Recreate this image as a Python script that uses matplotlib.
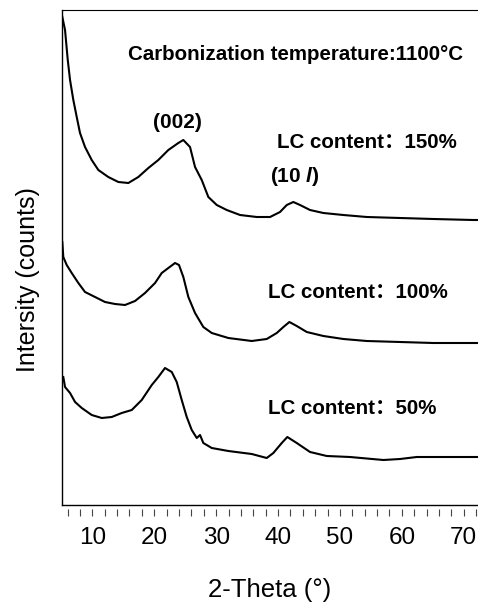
import numpy as np
import matplotlib.pyplot as plt

plt.rcParams['font.family'] = ['Liberation Sans', 'Noto Sans CJK SC', 'DejaVu Sans']
plt.rcParams['mathtext.fontset'] = 'custom'
plt.rcParams['mathtext.it'] = 'Liberation Sans:italic:bold'
plt.rcParams['mathtext.rm'] = 'Liberation Sans'

# XRD patterns (2-theta in degrees, intensity in arbitrary counts, already offset)
theta_150 = [5.15, 5.59, 6.03, 6.40, 6.93, 7.48, 8.01, 8.82, 9.90, 10.97, 12.58, 14.20, 15.82,
             17.43, 19.05, 20.66, 22.28, 23.89, 24.70, 25.78, 26.59, 27.67, 28.74, 30.10, 31.71,
             33.86, 36.56, 38.71, 40.32, 41.41, 42.47, 43.55, 45.16, 47.32, 50.55, 54.33, 59.71,
             65.09, 71.55, 72.3]
int_150 = [488, 475, 445, 425, 405, 388, 372, 358, 345, 335, 328, 323, 322,
           328, 337, 345, 355, 362, 365, 358, 338, 325, 308, 300, 295,
           290, 288, 288, 293, 300, 303, 300, 295, 292, 290, 288, 287,
           286, 285, 285]

theta_100 = [5.15, 5.31, 5.86, 6.67, 7.74, 8.82, 10.44, 12.05, 13.67, 15.28, 16.90, 18.51, 20.13,
             21.21, 22.28, 23.36, 24.00, 24.70, 25.51, 26.59, 27.93, 29.29, 31.97, 35.75, 38.17,
             39.79, 40.86, 41.83, 43.02, 44.64, 47.32, 50.55, 54.33, 59.71, 65.09, 72.3]
int_100 = [263, 248, 240, 232, 222, 213, 208, 203, 201, 200, 204, 212, 222,
           232, 237, 242, 240, 228, 208, 192, 178, 172, 167, 164, 166,
           172, 178, 183, 179, 173, 169, 166, 164, 163, 162, 162]

theta_50 = [5.31, 5.59, 6.40, 7.21, 8.29, 9.90, 11.52, 13.13, 14.75, 16.37, 17.98, 19.60, 20.66,
            21.74, 22.83, 23.63, 24.44, 25.25, 26.06, 26.87, 27.40, 27.93, 29.29, 31.97, 35.75,
            38.17, 39.24, 40.60, 41.50, 43.02, 45.17, 47.87, 51.63, 57.01, 59.71, 62.41, 67.78, 72.3]
int_50 = [128, 118, 112, 103, 97, 90, 87, 88, 92, 95, 105, 120, 128,
          137, 133, 123, 105, 88, 75, 67, 70, 62, 57, 54, 51,
          47, 52, 62, 68, 62, 53, 49, 48, 45, 46, 48, 48, 48]

major_ticks = [10, 20, 30, 40, 50, 60, 70]
minor_ticks = list(range(6, 73, 2))

fig = plt.figure(figsize=(4.78, 6.03), dpi=100)
ax = fig.add_axes([62 / 478, 98 / 603, 416 / 478, 495 / 603])

for t, y in [(theta_150, int_150), (theta_100, int_100), (theta_50, int_50)]:
    ax.plot(t, y, color='black', lw=1.5)

ax.set_xlim(5.1, 72.3)
ax.set_ylim(0, 495)
ax.set_yticks([])

# bottom axis line drawn separately so the ticks sit a little below it
ax.spines['right'].set_visible(False)
ax.spines['bottom'].set_visible(False)
ax.spines['bottom'].set_position(('outward', 3))
ax.spines['top'].set_linewidth(0.8)
ax.spines['left'].set_linewidth(1.0)
ax.axhline(0, color='black', lw=1.0, clip_on=False)

ax.set_xticks(major_ticks)
ax.set_xticks(minor_ticks, minor=True)
ax.tick_params(axis='x', which='both', direction='out', length=5, width=0.8,
               color='#444444', labelsize=17.5, pad=8)

ax.set_xlabel('2-Theta (°)', fontsize=18.5, labelpad=21)
ax.set_ylabel('Intersity (counts)', fontsize=18)
ax.yaxis.set_label_coords(-0.052, 0.455)

ax.text(15.77, 450, 'Carbonization temperature:1100°C', fontsize=14.8, ha='left', va='center',
        fontweight='bold')
ax.text(23.68, 382, '(002)', fontsize=15, ha='center', va='center', fontweight='bold')
ax.text(39.83, 362, 'LC content：150%', fontsize=14.8, ha='left', va='center', fontweight='bold')
ax.text(38.7, 328, r'(10 $\mathit{l}$)', fontsize=15, ha='left', va='center', fontweight='bold')
ax.text(38.38, 213, 'LC content：100%', fontsize=14.8, ha='left', va='center', fontweight='bold')
ax.text(38.38, 97, 'LC content：50%', fontsize=14.8, ha='left', va='center', fontweight='bold')

fig.savefig('out.png', dpi=100)
